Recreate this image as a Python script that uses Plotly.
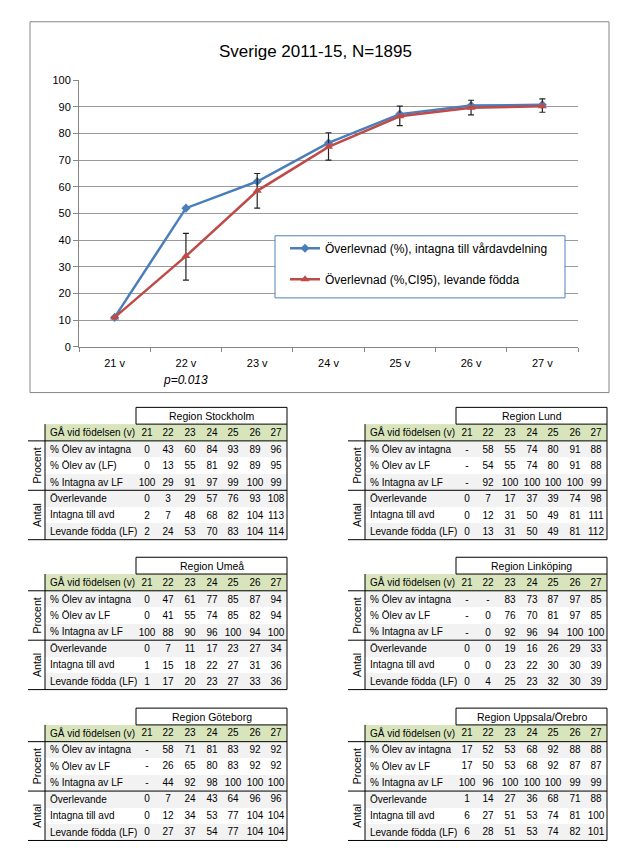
import plotly.graph_objs as go

W, H = 627, 866

# --- line chart data (Sverige 2011-15) ---
weeks = ["21 v", "22 v", "23 v", "24 v", "25 v", "26 v", "27 v"]
surv_admitted = [11, 52, 62, 76.5, 87.3, 90.5, 90.8]
surv_liveborn = [11, 34, 58.5, 75, 86.5, 89.7, 90.2]
ci_low = [11, 25, 52, 70, 83, 87, 88]
ci_high = [11, 42.5, 65, 80.3, 90.3, 92.5, 93]

# --- region tables ---
col_head = ["21", "22", "23", "24", "25", "26", "27"]
head_label = "GÅ vid födelsen (v)"
row_labels = ["% Ölev av intagna", "% Ölev av LF", "% Intagna av LF",
              "Överlevande", "Intagna till avd", "Levande födda (LF)"]
row_labels_sthlm = ["% Ölev av intagna", "% Ölev av (LF)", "% Intagna av LF",
                    "Överlevande", "Intagna till avd", "Levande födda (LF)"]

stockholm = [
    ["0", "43", "60", "84", "93", "89", "96"],
    ["0", "13", "55", "81", "92", "89", "95"],
    ["100", "29", "91", "97", "99", "100", "99"],
    ["0", "3", "29", "57", "76", "93", "108"],
    ["2", "7", "48", "68", "82", "104", "113"],
    ["2", "24", "53", "70", "83", "104", "114"],
]
lund = [
    ["-", "58", "55", "74", "80", "91", "88"],
    ["-", "54", "55", "74", "80", "91", "88"],
    ["-", "92", "100", "100", "100", "100", "99"],
    ["0", "7", "17", "37", "39", "74", "98"],
    ["0", "12", "31", "50", "49", "81", "111"],
    ["0", "13", "31", "50", "49", "81", "112"],
]
umea = [
    ["0", "47", "61", "77", "85", "87", "94"],
    ["0", "41", "55", "74", "85", "82", "94"],
    ["100", "88", "90", "96", "100", "94", "100"],
    ["0", "7", "11", "17", "23", "27", "34"],
    ["1", "15", "18", "22", "27", "31", "36"],
    ["1", "17", "20", "23", "27", "33", "36"],
]
linkoping = [
    ["-", "-", "83", "73", "87", "97", "85"],
    ["-", "0", "76", "70", "81", "97", "85"],
    ["-", "0", "92", "96", "94", "100", "100"],
    ["0", "0", "19", "16", "26", "29", "33"],
    ["0", "0", "23", "22", "30", "30", "39"],
    ["0", "4", "25", "23", "32", "30", "39"],
]
goteborg = [
    ["-", "58", "71", "81", "83", "92", "92"],
    ["-", "26", "65", "80", "83", "92", "92"],
    ["-", "44", "92", "98", "100", "100", "100"],
    ["0", "7", "24", "43", "64", "96", "96"],
    ["0", "12", "34", "53", "77", "104", "104"],
    ["0", "27", "37", "54", "77", "104", "104"],
]
uppsala = [
    ["17", "52", "53", "68", "92", "88", "88"],
    ["17", "50", "53", "68", "92", "87", "87"],
    ["100", "96", "100", "100", "100", "99", "99"],
    ["1", "14", "27", "36", "68", "71", "88"],
    ["6", "27", "51", "53", "74", "81", "100"],
    ["6", "28", "51", "53", "74", "82", "101"],
]

FONT = "Liberation Sans, Arial, sans-serif"
GREEN = "#D8E4BC"
GRAY = "#F2F2F2"
BLUE = "#4A7EBB"
RED = "#BE4B48"


def px(x):
    return x / W


def py(y):
    return 1 - y / H


fig = go.Figure()

# survival lines
fig.add_trace(go.Scatter(
    x=weeks, y=surv_admitted, mode="lines+markers",
    name="Överlevnad (%), intagna till vårdavdelning",
    line=dict(color=BLUE, width=2.5),
    marker=dict(symbol="diamond", size=7, color=BLUE),
    legendgroup="a",
))
fig.add_trace(go.Scatter(
    x=weeks, y=surv_liveborn, mode="lines+markers",
    name="Överlevnad (%,CI95), levande födda",
    line=dict(color=RED, width=2.5),
    marker=dict(symbol="triangle-up", size=8, color=RED),
    error_y=dict(type="data", symmetric=False,
                 array=[h - v for h, v in zip(ci_high, surv_liveborn)],
                 arrayminus=[v - l for v, l in zip(surv_liveborn, ci_low)],
                 color="#222222", thickness=1.2, width=3),
    legendgroup="b",
))

shapes = []
annotations = []
axes = {}

# chart frame
shapes.append(dict(type="rect", xref="paper", yref="paper", layer="below",
                   x0=px(30), x1=px(609), y0=py(16), y1=py(392),
                   line=dict(color="#868686", width=1)))
# legend box
shapes.append(dict(type="rect", xref="paper", yref="paper", layer="above",
                   x0=px(275), x1=px(565), y0=py(233), y1=py(296),
                   fillcolor="white", line=dict(color="#4F81BD", width=1)))

annotations.append(dict(text="Sverige 2011-15, N=1895", xref="paper", yref="paper",
                        x=px(315), y=py(46), xanchor="center", yanchor="middle",
                        showarrow=False, font=dict(size=17, color="black")))
annotations.append(dict(text="<i>p=0.013</i>", xref="paper", yref="paper",
                        x=px(185), y=py(379), xanchor="center", yanchor="middle",
                        showarrow=False, font=dict(size=12, color="black")))

LABEL_W = 91
COL_W = (242 - LABEL_W) / 7
HEAD_H = 17
ROW_H = 16.7
x_edges = [0, LABEL_W] + [LABEL_W + COL_W * (i + 1) for i in range(7)]
y_edges = [0, HEAD_H] + [HEAD_H + ROW_H * (i + 1) for i in range(6)]
row_fill = [1, 0, 1, 1, 0, 1]  # 0 white, 1 gray, 2 green


def add_region(k, title, rows, labels, ox, oy):
    """Table for one region; ox = left edge of label column, oy = top of title box."""
    top = oy + HEAD_H
    bottom = top + y_edges[-1]
    xa, ya = "x%d" % k, "y%d" % k
    z = [[2] * 8] + [[f] * 8 for f in row_fill]
    text = [[""] + col_head] + [[""] + r for r in rows]
    fig.add_trace(go.Heatmap(
        x=x_edges, y=y_edges, z=z, text=text, texttemplate="%{text}",
        textfont=dict(family=FONT, size=10, color="black"),
        colorscale=[[0, "white"], [0.5, GRAY], [1, GREEN]], zmin=0, zmax=2,
        showscale=False, hoverinfo="skip", xaxis=xa, yaxis=ya,
    ))
    centers = [(a + b) / 2 for a, b in zip(y_edges[:-1], y_edges[1:])]
    axes["xaxis%d" % k] = dict(domain=[px(ox), px(ox + 242)], range=[0, 242],
                               anchor=ya, visible=False, fixedrange=True)
    axes["yaxis%d" % k] = dict(domain=[py(bottom), py(top)], range=[y_edges[-1], 0],
                               anchor=xa, tickvals=centers, ticktext=[head_label] + labels,
                               ticklabelposition="inside", ticklabeloverflow="allow",
                               ticks="", showgrid=False, zeroline=False, showline=False,
                               ticklabelstandoff=2, fixedrange=True,
                               tickfont=dict(family=FONT, size=10, color="black"))
    line = dict(color="black", width=1)
    # title box
    shapes.append(dict(type="rect", xref="paper", yref="paper", layer="above",
                       x0=px(ox + LABEL_W), x1=px(ox + 242), y0=py(oy), y1=py(top), line=line))
    for x in (ox, ox + 242):
        shapes.append(dict(type="line", xref="paper", yref="paper", layer="above",
                           x0=px(x), x1=px(x), y0=py(top), y1=py(bottom), line=line))
    for y in (top + HEAD_H, top + HEAD_H + 3 * ROW_H, bottom):
        shapes.append(dict(type="line", xref="paper", yref="paper", layer="above",
                           x0=px(ox - 17), x1=px(ox + 242), y0=py(y), y1=py(y), line=line))
    annotations.append(dict(text=title, xref="paper", yref="paper",
                            x=px(ox + LABEL_W + 75.5), y=py(oy + 8.5), xanchor="center",
                            yanchor="middle", showarrow=False,
                            font=dict(size=10.5, color="black")))
    for name, yc in (("Procent", top + HEAD_H + 1.5 * ROW_H),
                     ("Antal", top + HEAD_H + 4.5 * ROW_H)):
        annotations.append(dict(text=name, xref="paper", yref="paper", textangle=-90,
                                x=px(ox - 8), y=py(yc), xanchor="center", yanchor="middle",
                                showarrow=False, font=dict(size=10.5, color="black")))


add_region(2, "Region Stockholm", stockholm, row_labels_sthlm, 45, 407)
add_region(3, "Region Lund", lund, row_labels, 365, 407)
add_region(4, "Region Umeå", umea, row_labels, 45, 559)
add_region(5, "Region Linköping", linkoping, row_labels, 365, 559)
add_region(6, "Region Göteborg", goteborg, row_labels, 45, 712)
add_region(7, "Region Uppsala/Örebro", uppsala, row_labels, 365, 712)

fig.update_layout(
    width=W, height=H,
    margin=dict(l=0, r=0, t=0, b=0),
    paper_bgcolor="white", plot_bgcolor="white",
    font=dict(family=FONT, size=11, color="black"),
    shapes=shapes, annotations=annotations,
    xaxis=dict(domain=[px(79), px(578)], type="category", range=[-0.5, 6.5],
               showline=True, linecolor="#868686", ticks="outside", ticklen=4,
               tickcolor="#868686", tickson="boundaries", showgrid=False,
               ticklabelstandoff=6, tickfont=dict(size=11)),
    yaxis=dict(domain=[py(345.5), py(75.3)], range=[0, 100], dtick=10,
               showline=True, linecolor="#868686", ticks="outside", ticklen=5,
               tickcolor="#868686", showgrid=True, gridcolor="#9A9A9A",
               zeroline=False, tickfont=dict(size=11)),
    legend=dict(x=px(285), y=py(231), xanchor="left", yanchor="top",
                bgcolor="rgba(0,0,0,0)", borderwidth=0,
                font=dict(size=12), tracegroupgap=12),
    **axes,
)

fig.write_html("out.html", config={"displayModeBar": False},
               post_script="document.body.style.margin='0';")
